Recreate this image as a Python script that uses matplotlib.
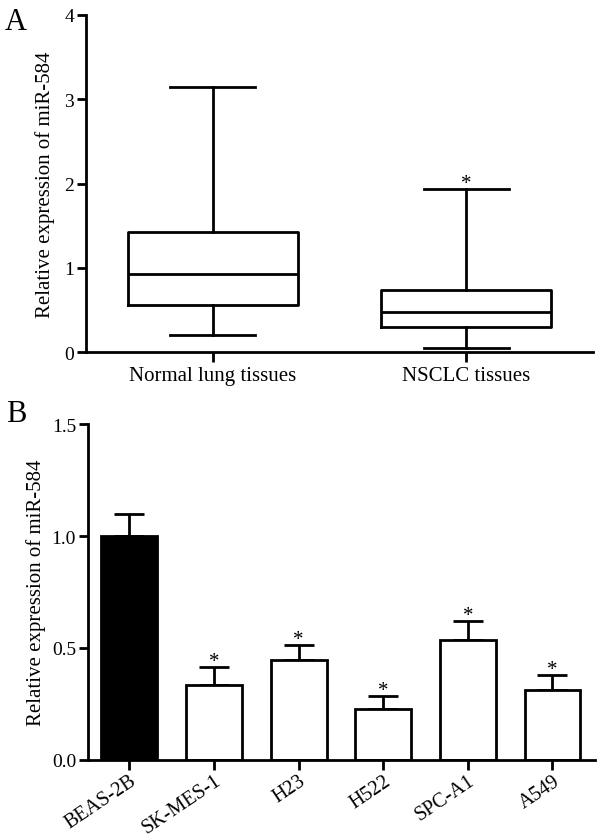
import matplotlib.pyplot as plt
import numpy as np

plt.rcParams['font.family'] = ['Liberation Serif', 'DejaVu Serif']

# Panel A: box plot stats
groups = ["Normal lung tissues", "NSCLC tissues"]
whislo = [0.20, 0.05]
q1 = [0.56, 0.30]
med = [0.93, 0.475]
q3 = [1.43, 0.735]
whishi = [3.15, 1.94]
sig_a = ["", "*"]

# Panel B: bar chart
cells = ["BEAS-2B", "SK-MES-1", "H23", "H522", "SPC-A1", "A549"]
expr = [1.00, 0.335, 0.446, 0.225, 0.537, 0.314]
err = [0.10, 0.078, 0.066, 0.062, 0.083, 0.063]
sig_b = ["", "*", "*", "*", "*", "*"]

lw = 2.0
fig = plt.figure(figsize=(6.02, 8.37), dpi=100)

# ---- A ----
axA = fig.add_axes([0.143, 0.578, 0.842, 0.403])
stats = [dict(label=g, whislo=a, q1=b, med=c, q3=d, whishi=e)
         for g, a, b, c, d, e in zip(groups, whislo, q1, med, q3, whishi)]
line = dict(color='black', linewidth=lw)
axA.bxp(stats, positions=[1, 2], widths=0.67, showfliers=False,
        boxprops=line, whiskerprops=line, capprops=line, medianprops=line)
for i, s in enumerate(sig_a):
    if s:
        axA.annotate(s, (i + 1, whishi[i]), xytext=(0, 4), textcoords='offset points',
                     ha='center', va='center', fontsize=15)
axA.set_xlim(0.5, 2.5)
axA.set_ylim(0, 4)
axA.set_yticks([0, 1, 2, 3, 4])
axA.set_xticks([1, 2])
axA.set_xticklabels(groups)
axA.set_ylabel("Relative expression of miR-584", fontsize=15)
axA.yaxis.set_label_coords(-0.062, 0.5)

# ---- B ----
axB = fig.add_axes([0.146, 0.091, 0.842, 0.401])
x = np.arange(len(cells))
colors = ['black'] + ['white'] * (len(cells) - 1)
axB.bar(x, expr, width=0.66, color=colors, edgecolor='black', linewidth=lw, zorder=2)
axB.errorbar(x, expr, yerr=[np.zeros(len(err)), err], fmt='none', ecolor='black',
             elinewidth=lw, capsize=11, capthick=lw, zorder=1)
for i, s in enumerate(sig_b):
    if s:
        axB.annotate(s, (x[i], expr[i] + err[i]), xytext=(0, 4), textcoords='offset points',
                     ha='center', va='center', fontsize=15)
axB.set_xlim(-0.49, 5.5)
axB.set_ylim(0, 1.5)
axB.set_yticks([0.0, 0.5, 1.0, 1.5])
axB.set_yticklabels(["0.0", "0.5", "1.0", "1.5"])
axB.set_xticks(x)
axB.set_xticklabels(cells, rotation=34, ha='right', va='top', rotation_mode='anchor')
axB.set_ylabel("Relative expression of miR-584", fontsize=15)
axB.yaxis.set_label_coords(-0.083, 0.5)

for ax in (axA, axB):
    ax.spines['top'].set_visible(False)
    ax.spines['right'].set_visible(False)
    ax.spines['left'].set_linewidth(lw)
    ax.spines['bottom'].set_linewidth(lw)
    ax.tick_params(axis='y', width=lw, length=6.5, labelsize=14, pad=2)
    ax.tick_params(axis='x', width=lw, length=7, labelsize=15, pad=3)

axB.tick_params(axis='x', labelsize=14.5, pad=1)
for lab in axB.get_xticklabels():
    lab.set_x(lab.get_position()[0] + 0.06)

fig.text(0.008, 0.99, "A", fontsize=22, va='top', ha='left')
fig.text(0.01, 0.522, "B", fontsize=22, va='top', ha='left')

fig.savefig("out.png", dpi=100)
